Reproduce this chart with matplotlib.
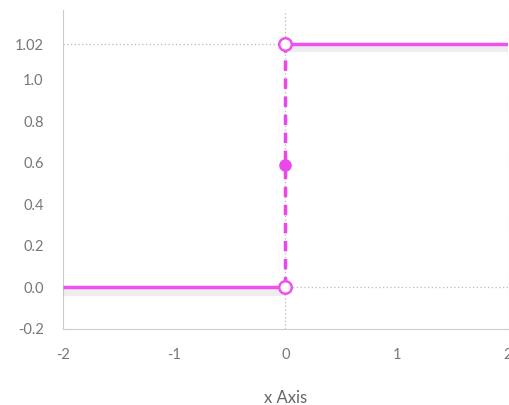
import numpy as np
import matplotlib
matplotlib.use("Agg")
import matplotlib.pyplot as plt
import matplotlib.patheffects as pe

# step function pieces
lower_x = [-2, 0]
lower_y = [0.0, 0.0]
upper_x = [0, 2]
upper_y = [1.17, 1.17]
jump_x = [0, 0]
jump_y = [0.0, 1.17]
open_pts_x = [0, 0]
open_pts_y = [0.0, 1.17]
mid_x = [0]
mid_y = [0.59]

yticks = [-0.2, 0.0, 0.2, 0.4, 0.6, 0.8, 1.0, 1.17]
ytick_labels = ["-0.2", "0.0", "0.2", "0.4", "0.6", "0.8", "1.0", "1.02"]
xticks = [-2, -1, 0, 1, 2]
xtick_labels = ["-2", "-1", "0", "1", "2"]

plt.rcParams['font.family'] = ['Lato', 'DejaVu Sans']

pink = '#f050f0'
grid_c = '#bbbbbb'

fig = plt.figure(figsize=(5.10, 4.05), dpi=100)
ax = fig.add_axes([0.1235, 0.1877, 0.872, 0.7876])

# dotted guide lines
ax.axvline(0, color=grid_c, lw=0.9, ls=(0, (1, 2)), zorder=1)
ax.axvline(2, color=grid_c, lw=0.9, ls=(0, (1, 2)), zorder=1)
ax.plot([-2, 0], [upper_y[0], upper_y[0]], color=grid_c, lw=0.9, ls=(0, (1, 2)), zorder=1)
ax.plot([0, 2], [lower_y[0], lower_y[0]], color=grid_c, lw=0.9, ls=(0, (1, 2)), zorder=1)

shadow = [pe.SimpleLineShadow(offset=(0, -3), shadow_color='#aaaaaa', alpha=0.2, linewidth=6), pe.Normal()]
ax.plot(lower_x, lower_y, color=pink, lw=2.5, solid_capstyle='butt', path_effects=shadow, zorder=3)
ax.plot(upper_x, upper_y, color=pink, lw=2.5, solid_capstyle='butt', path_effects=shadow, zorder=3)
ax.plot(jump_x, jump_y, color='#ea48ea', lw=2.5, ls=(0, (3, 2.2)), zorder=3)
ax.plot(mid_x, mid_y, 'o', color='#ea48ea', ms=8, zorder=4)
ax.plot(open_pts_x, open_pts_y, 'o', mfc='white', mec=pink, mew=1.8, ms=9, zorder=5)

ax.set_xlim(-2, 2)
ax.set_ylim(-0.2, 1.334)
ax.set_yticks(yticks)
ax.set_yticklabels(ytick_labels)
ax.set_xticks(xticks)
ax.set_xticklabels(xtick_labels)
ax.tick_params(length=0, colors='#777777', labelsize=10.5, pad=14)
ax.tick_params(axis='y', pad=14)
ax.set_xlabel('x Axis', color='#666666', fontsize=12, labelpad=20)

for s in ['top', 'right']:
    ax.spines[s].set_visible(False)
ax.spines['left'].set_color('#cccccc')
ax.spines['bottom'].set_color('#cccccc')

fig.savefig('out.png', dpi=100)
